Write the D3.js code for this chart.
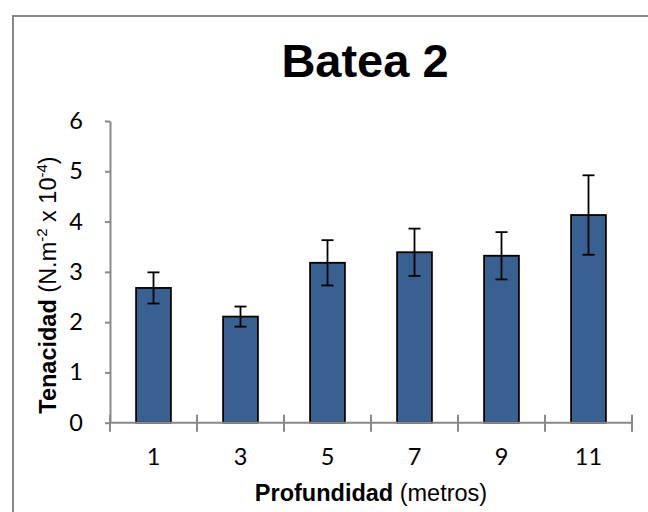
<!DOCTYPE html>
<html>
<head>
<meta charset="utf-8">
<script src="https://cdn.jsdelivr.net/npm/d3@7/dist/d3.min.js"></script>
<style>
  html, body { margin: 0; padding: 0; background: #fff; }
  svg { display: block; }
</style>
</head>
<body>
<script>
// Depth (m) categories, mean tenacity and its error
const depths = ["1", "3", "5", "7", "9", "11"];
const tenacity = [2.68, 2.11, 3.18, 3.39, 3.32, 4.13];
const errors = [0.31, 0.20, 0.45, 0.47, 0.47, 0.79];
const yTicks = [0, 1, 2, 3, 4, 5, 6];

const W = 648, H = 512;
const plot = { left: 110, right: 632, top: 121, bottom: 422.7 };
const axisGray = "#898989";
const barFill = "#386192";

const svg = d3.select("body").append("svg")
  .attr("width", W).attr("height", H);

// Chart frame (extends past the visible area on the right and bottom)
svg.append("rect")
  .attr("x", 13).attr("y", 16)
  .attr("width", 700).attr("height", 600)
  .attr("fill", "#fff")
  .attr("stroke", "#878787").attr("stroke-width", 2);

const x = d3.scaleBand()
  .domain(depths)
  .range([plot.left, plot.right])
  .paddingInner(0.6)
  .paddingOuter(0.3);

const y = d3.scaleLinear()
  .domain([0, 6])
  .range([plot.bottom, plot.top]);

// Title
svg.append("text")
  .attr("x", 365).attr("y", 77)
  .attr("text-anchor", "middle")
  .attr("font-family", "Liberation Sans, Arial, sans-serif")
  .attr("font-weight", "bold")
  .attr("font-size", 47)
  .attr("fill", "#000")
  .text("Batea 2");

// Bars
svg.append("g").selectAll("rect")
  .data(depths)
  .join("rect")
  .attr("x", d => x(d))
  .attr("width", x.bandwidth())
  .attr("y", (d, i) => y(tenacity[i]))
  .attr("height", (d, i) => y(0) - y(tenacity[i]))
  .attr("fill", barFill)
  .attr("stroke", "#000")
  .attr("stroke-width", 1.8);

// Error bars
const eb = svg.append("g").attr("stroke", "#000").attr("stroke-width", 1.8);
depths.forEach((d, i) => {
  const cx = x(d) + x.bandwidth() / 2;
  const hi = y(tenacity[i] + errors[i]);
  const lo = y(tenacity[i] - errors[i]);
  eb.append("line").attr("x1", cx).attr("x2", cx).attr("y1", hi).attr("y2", lo);
  eb.append("line").attr("x1", cx - 6).attr("x2", cx + 6).attr("y1", hi).attr("y2", hi);
  eb.append("line").attr("x1", cx - 6).attr("x2", cx + 6).attr("y1", lo).attr("y2", lo);
});

// Y axis
const yAxis = svg.append("g")
  .attr("transform", `translate(${plot.left},0)`)
  .call(d3.axisLeft(y).tickValues(yTicks).tickFormat(d3.format("d"))
    .tickSize(5).tickSizeOuter(0).tickPadding(22));
yAxis.select(".domain").attr("stroke", axisGray).attr("stroke-width", 2);
yAxis.selectAll(".tick line").attr("stroke", axisGray).attr("stroke-width", 2);
yAxis.selectAll(".tick text")
  .attr("font-family", "Lato, 'Open Sans', sans-serif")
  .attr("font-size", 23.5)
  .attr("fill", "#000");

// X axis: baseline with crossing ticks at category boundaries
const step = x.step();
const gap = step - x.bandwidth();
const boundaries = depths.map(d => x(d) - gap / 2).concat([x(depths[depths.length - 1]) + x.bandwidth() + gap / 2]);
const xAxis = svg.append("g");
xAxis.append("line")
  .attr("x1", plot.left).attr("x2", boundaries[boundaries.length - 1])
  .attr("y1", y(0)).attr("y2", y(0))
  .attr("stroke", axisGray).attr("stroke-width", 2);
xAxis.selectAll("line.tk")
  .data(boundaries)
  .join("line")
  .attr("class", "tk")
  .attr("x1", d => d).attr("x2", d => d)
  .attr("y1", y(0) - 8).attr("y2", y(0) + 9)
  .attr("stroke", axisGray).attr("stroke-width", 2);
xAxis.selectAll("text")
  .data(depths)
  .join("text")
  .attr("x", d => x(d) + x.bandwidth() / 2)
  .attr("y", 465)
  .attr("text-anchor", "middle")
  .attr("font-family", "Lato, 'Open Sans', sans-serif")
  .attr("font-size", 23.5)
  .attr("fill", "#000")
  .text(d => d);

// X axis title
const xt = svg.append("text")
  .attr("x", 371).attr("y", 501)
  .attr("text-anchor", "middle")
  .attr("font-family", "Liberation Sans, Arial, sans-serif")
  .attr("font-size", 23.5)
  .attr("fill", "#000");
xt.append("tspan").attr("font-weight", "bold").text("Profundidad");
xt.append("tspan").text(" (metros)");

// Y axis title with superscripts
const yt = svg.append("text")
  .attr("transform", "translate(56,285) rotate(-90)")
  .attr("text-anchor", "middle")
  .attr("font-family", "Liberation Sans, Arial, sans-serif")
  .attr("font-size", 23.5)
  .attr("fill", "#000");
yt.append("tspan").attr("font-weight", "bold").text("Tenacidad");
yt.append("tspan").text(" (N.m");
yt.append("tspan").attr("font-size", 15).attr("dy", -9).text("-2");
yt.append("tspan").attr("dy", 9).text(" x 10");
yt.append("tspan").attr("font-size", 15).attr("dy", -9).text("-4");
yt.append("tspan").attr("dy", 9).text(")");
</script>
</body>
</html>
